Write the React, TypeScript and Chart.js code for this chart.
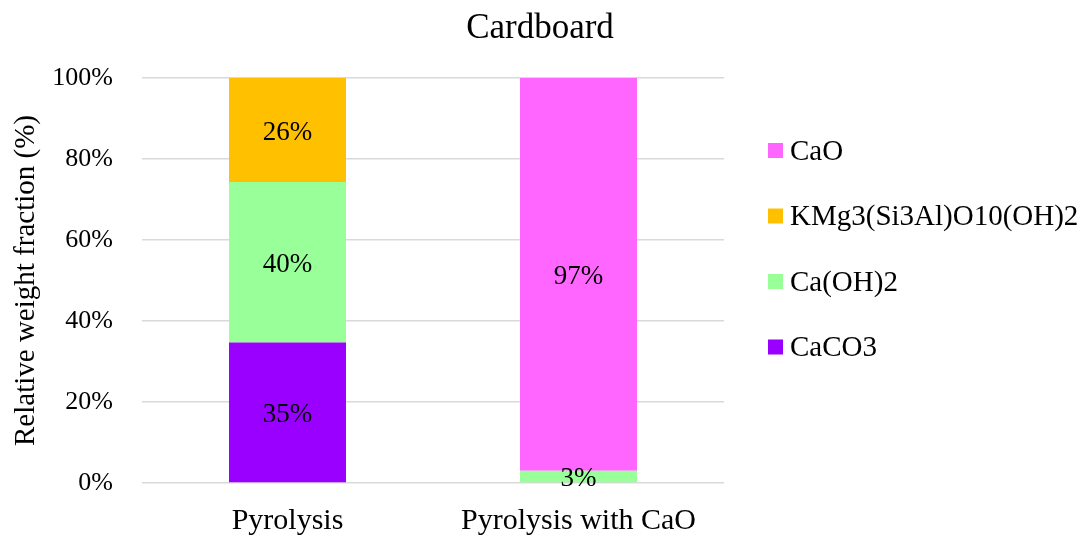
import React, { useEffect, useRef } from "react";
import { Chart, registerables } from "chart.js";

Chart.register(...registerables);

const categories = ["Pyrolysis", "Pyrolysis with CaO"];
const seriesNames = ["CaCO3", "Ca(OH)2", "KMg3(Si3Al)O10(OH)2", "CaO"];
const caco3 = [34.7, 0];
const caoh2 = [39.6, 3];
const kmg = [25.7, 0];
const cao = [0, 97];
const seriesColors = ["#9900FF", "#99FF99", "#FFC000", "#FF66FF"];
const yTicks = [0, 20, 40, 60, 80, 100];

const FONT = "'Liberation Serif', 'Times New Roman', serif";

// Writes each non-zero segment's rounded value in the middle of its bar.
const segmentLabels = {
  id: "segmentLabels",
  afterDatasetsDraw(chart: any) {
    const { ctx } = chart;
    ctx.save();
    ctx.font = `27px ${FONT}`;
    ctx.fillStyle = "#000";
    ctx.textAlign = "center";
    ctx.textBaseline = "middle";
    chart.data.datasets.forEach((ds: any, di: number) => {
      const meta = chart.getDatasetMeta(di);
      meta.data.forEach((bar: any, i: number) => {
        const v = ds.data[i];
        if (!v) return;
        const { x, y, base } = bar.getProps(["x", "y", "base"], true);
        ctx.fillText(`${Math.round(v)}%`, x, (y + base) / 2 + 2.5);
      });
    });
    ctx.restore();
  },
};

// Legend on the right, top series first.
const sideLegend = {
  id: "sideLegend",
  afterDraw(chart: any) {
    const { ctx, chartArea } = chart;
    const ds = chart.data.datasets;
    const x0 = chartArea.right + 44;
    const rowGap = 65.5;
    const y0 = 150.5;
    ctx.save();
    ctx.font = `29px ${FONT}`;
    ctx.textBaseline = "middle";
    ctx.textAlign = "left";
    for (let k = 0; k < ds.length; k++) {
      const d = ds[ds.length - 1 - k];
      const cy = y0 + k * rowGap;
      ctx.fillStyle = d.backgroundColor;
      ctx.fillRect(x0, cy - 7.5, 15, 15);
      ctx.fillStyle = "#000";
      ctx.fillText(d.label, x0 + 22, cy + 1.5);
    }
    ctx.restore();
  },
};

export default function App() {
  const ref = useRef<HTMLCanvasElement | null>(null);

  useEffect(() => {
    document.body.style.margin = "0";
    if (!ref.current) return;
    const values = [caco3, caoh2, kmg, cao];
    const chart = new Chart(ref.current, {
      type: "bar",
      data: {
        labels: categories,
        datasets: seriesNames.map((name, i) => ({
          label: name,
          data: values[i],
          backgroundColor: seriesColors[i],
          borderWidth: 0,
          categoryPercentage: 1,
          barPercentage: 0.402,
          yAxisID: "y",
        })),
      },
      plugins: [segmentLabels, sideLegend],
      options: {
        animation: false,
        responsive: true,
        maintainAspectRatio: false,
        layout: { padding: { left: 0, right: 8, top: 0, bottom: 0 } },
        plugins: {
          legend: { display: false },
          tooltip: { enabled: false },
          title: {
            display: true,
            text: "Cardboard",
            color: "#000",
            font: { family: FONT, size: 35, weight: "normal" },
            padding: { top: 7.5, bottom: 28.5 },
          },
        },
        scales: {
          x: {
            stacked: true,
            grid: { display: false },
            border: { display: false },
            ticks: {
              color: "#000",
              font: { family: FONT, size: 30 },
              padding: 12,
              maxRotation: 0,
            },
            afterFit: (s: any) => {
              s.height = 53;
            },
          },
          y: {
            stacked: true,
            min: 0,
            max: 100,
            afterBuildTicks: (s: any) => {
              s.ticks = yTicks.map((v) => ({ value: v }));
            },
            grid: { color: "#d9d9d9", lineWidth: 1.5, drawTicks: false },
            border: { display: false },
            ticks: {
              color: "#000",
              font: { family: FONT, size: 26 },
              padding: 29,
              callback: (v: any) => `${v}%`,
            },
            title: {
              display: true,
              text: "Relative weight fraction (%)",
              color: "#000",
              font: { family: FONT, size: 29 },
              padding: { top: 9, bottom: 0 },
            },
            afterFit: (s: any) => {
              s.width = 142;
            },
          },
          // empty right-hand band that holds the legend
          side: {
            type: "linear",
            position: "right",
            grid: { display: false },
            border: { display: false },
            ticks: { display: false },
            afterFit: (s: any) => {
              s.width = 356;
            },
          },
        },
      },
    });
    return () => chart.destroy();
  }, []);

  return (
    <div style={{ width: 1088, height: 536, position: "relative" }}>
      <canvas ref={ref} />
    </div>
  );
}
